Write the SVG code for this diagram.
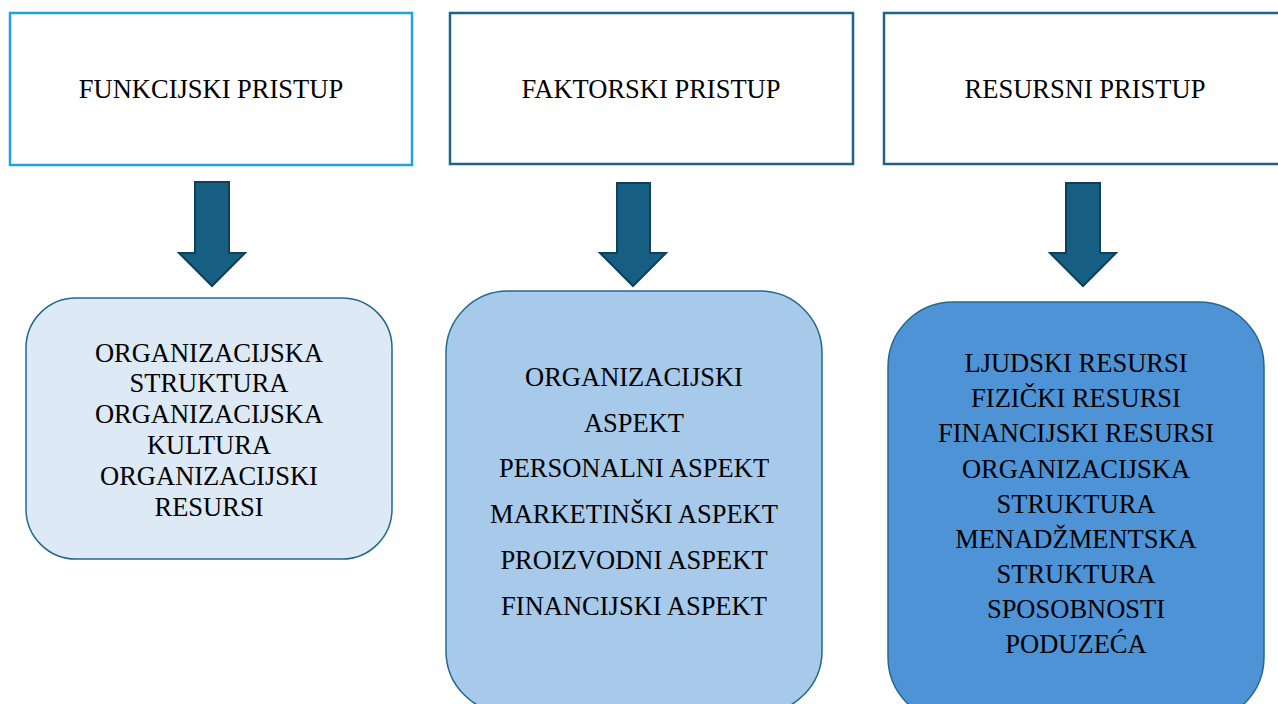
<svg xmlns="http://www.w3.org/2000/svg" width="1278" height="704" viewBox="0 0 1278 704">
<style>
text{font-family:"Liberation Serif","Times New Roman",serif;font-size:26.5px;fill:#000;text-anchor:middle}
.hdr{fill:#fff;stroke-width:2.5}
.hdr1{stroke:#1ea4dc}
.hdr2{stroke:#1f6389}
.body{stroke:#24688d;stroke-width:1.5}
.arrow{fill:#175f82;stroke:#0f3f59;stroke-width:2;stroke-linejoin:miter}
</style>
<rect width="1278" height="704" fill="#fff"/>
<g id="connectors">
<path class="arrow" d="M195,182 H229 V253 H245 L212,286 L179,253 H195 Z"/>
<path class="arrow" d="M617,183 H650 V253 H666 L633,286 L600,253 H617 Z"/>
<path class="arrow" d="M1066,183 H1100 V253 H1116 L1083,286 L1050,253 H1066 Z"/>
</g>
<g id="funkcijski">
<rect class="hdr hdr1" x="10" y="13" width="402" height="152"/>
<text x="211" y="98">FUNKCIJSKI PRISTUP</text>
</g>
<g id="faktorski">
<rect class="hdr hdr2" x="450" y="13" width="403" height="151"/>
<text x="651" y="98">FAKTORSKI PRISTUP</text>
</g>
<g id="resursni">
<rect class="hdr hdr2" x="884" y="13" width="410" height="151"/>
<text x="1085" y="98">RESURSNI PRISTUP</text>
</g>
<g id="funkcijski-items">
<rect class="body" x="26" y="298" width="366" height="261" rx="50" fill="#dde9f5"/>
<text x="209" y="362">ORGANIZACIJSKA</text>
<text x="209" y="392">STRUKTURA</text>
<text x="209" y="423">ORGANIZACIJSKA</text>
<text x="209" y="454">KULTURA</text>
<text x="209" y="485">ORGANIZACIJSKI</text>
<text x="209" y="516">RESURSI</text>
</g>
<g id="faktorski-items">
<rect class="body" x="446" y="291" width="376" height="422" rx="62" fill="#a7c9ea"/>
<text x="634" y="386">ORGANIZACIJSKI</text>
<text x="634" y="432">ASPEKT</text>
<text x="634" y="477">PERSONALNI ASPEKT</text>
<text x="634" y="523">MARKETINŠKI ASPEKT</text>
<text x="634" y="569">PROIZVODNI ASPEKT</text>
<text x="634" y="615">FINANCIJSKI ASPEKT</text>
</g>
<g id="resursni-items">
<rect class="body" x="888" y="302" width="376" height="420" rx="65" fill="#4e93d6"/>
<text x="1076" y="372">LJUDSKI RESURSI</text>
<text x="1076" y="407">FIZIČKI RESURSI</text>
<text x="1076" y="442">FINANCIJSKI RESURSI</text>
<text x="1076" y="478">ORGANIZACIJSKA</text>
<text x="1076" y="513">STRUKTURA</text>
<text x="1076" y="548">MENADŽMENTSKA</text>
<text x="1076" y="583">STRUKTURA</text>
<text x="1076" y="618">SPOSOBNOSTI</text>
<text x="1076" y="653">PODUZEĆA</text>
</g>
</svg>
